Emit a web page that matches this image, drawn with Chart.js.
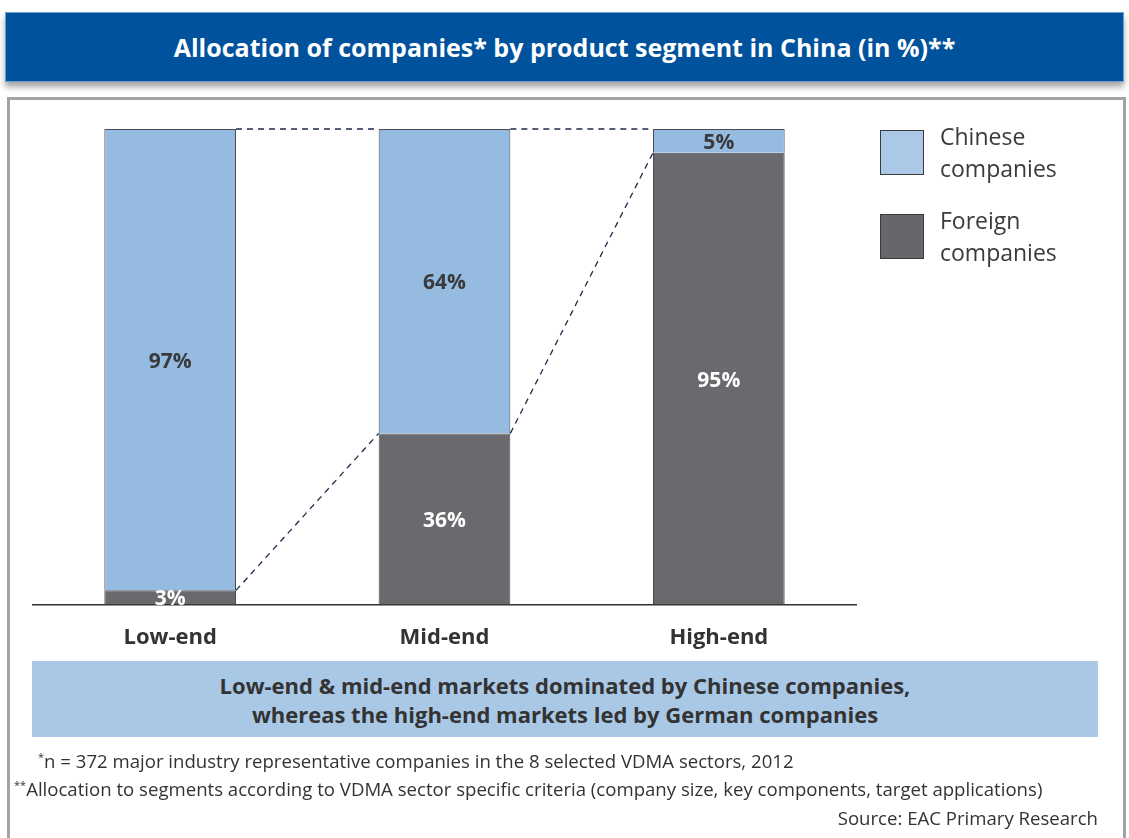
<!DOCTYPE html>
<html>
<head>
<meta charset="utf-8">
<script src="https://cdn.jsdelivr.net/npm/chart.js@4"></script>
<style>
  html, body { margin: 0; padding: 0; background: #fff; }
  body { width: 1129px; height: 838px; position: relative; overflow: hidden; font-family: "Open Sans", "Noto Sans", sans-serif; }
  #header {
    position: absolute; left: 5px; top: 12px; width: 1117px; height: 68px;
    background: #00529c; border: 1px solid #6f9fd0;
    box-shadow: 0 5px 6px rgba(0,0,0,0.35);
    color: #fff; font-weight: bold; font-size: 25px;
    display: flex; align-items: center; justify-content: center;
  }
  #panel {
    position: absolute; left: 7px; top: 97px; width: 1113px; height: 780px;
    border: 3px solid #a3a3a6;
  }
  #chartBox { position: absolute; left: 0; top: 0; width: 1129px; height: 838px; }
  #legend { position: absolute; left: 880px; top: 120px; font-size: 23px; color: #3a3a3c; line-height: 32px; }
  .item { position: relative; padding-left: 60px; height: 64px; margin-bottom: 20px; }
  .sw { position: absolute; left: 0; top: 10px; width: 44px; height: 45px; border: 1px solid #3a3a3c; box-sizing: border-box; }
  #summary {
    position: absolute; left: 32px; top: 661px; width: 1066px; height: 76px;
    background: #a9c8e6; color: #333; font-weight: bold; font-size: 22px;
    text-align: center; line-height: 29px; padding-top: 10px; box-sizing: border-box;
  }
  .note { position: absolute; font-size: 18.6px; color: #333; white-space: nowrap; }
  .note sup { font-size: 11px; }
</style>
</head>
<body>
<div id="header">Allocation of companies* by product segment in China (in %)**</div>
<div id="panel"></div>
<div id="chartBox"><canvas id="segChart" width="1129" height="838"></canvas></div>
<div id="legend">
  <div class="item"><span class="sw" style="background:#abc9e7"></span>Chinese<br>companies</div>
  <div class="item"><span class="sw" style="background:#67676b"></span>Foreign<br>companies</div>
</div>
<div id="summary">Low-end &amp; mid-end markets dominated by Chinese companies,<br>whereas the high-end markets led by German companies</div>
<div class="note" style="left:38px; top:748px;"><sup>*</sup>n = 372 major industry representative companies in the 8 selected VDMA sectors, 2012</div>
<div class="note" style="left:14px; top:776px;"><sup>**</sup>Allocation to segments according to VDMA sector specific criteria (company size, key components, target applications)</div>
<div class="note" style="right:31px; top:805px;">Source: EAC Primary Research</div>

<script>
"use strict";

// ---------------- DATA ----------------
const segments = ["Low-end", "Mid-end", "High-end"];
const foreignShare = [3, 36, 95];
const chineseShare = [97, 64, 5];

const BLUE = "#95bbe0";
const GRAY = "#6a696e";

// label colors per segment (dark text on light, white on dark)
const foreignLabelColor = ["#ffffff", "#ffffff", "#ffffff"];
const chineseLabelColor = ["#3a3a3c", "#3a3a3c", "#3a3a3c"];

// ---------------- PLUGINS ----------------
// dashed lines connecting the bars
const connectors = {
  id: "connectors",
  afterDatasetsDraw(chart) {
    const ctx = chart.ctx;
    const low = chart.getDatasetMeta(0).data;
    const top = chart.getDatasetMeta(1).data;
    ctx.save();
    ctx.strokeStyle = "#1e2a4a";
    ctx.lineWidth = 1.3;
    ctx.setLineDash([6, 5]);
    for (let i = 0; i < low.length - 1; i++) {
      const a = low[i], b = low[i + 1];
      const ta = top[i], tb = top[i + 1];
      // top edges
      ctx.beginPath();
      ctx.moveTo(ta.x + ta.width / 2, ta.y);
      ctx.lineTo(tb.x - tb.width / 2, tb.y);
      ctx.stroke();
      // foreign/chinese boundary
      ctx.beginPath();
      ctx.moveTo(a.x + a.width / 2, a.y);
      ctx.lineTo(b.x - b.width / 2, b.y);
      ctx.stroke();
    }
    ctx.restore();
  },
};

// percentage labels inside the segments
const valueLabels = {
  id: "valueLabels",
  afterDatasetsDraw(chart) {
    const ctx = chart.ctx;
    ctx.save();
    ctx.font = "bold 21px 'Open Sans', sans-serif";
    ctx.textAlign = "center";
    ctx.textBaseline = "middle";
    chart.data.datasets.forEach((ds, di) => {
      chart.getDatasetMeta(di).data.forEach((bar, i) => {
        const mid = (bar.y + bar.base) / 2;
        ctx.fillStyle = ds.labelColors[i];
        ctx.fillText(ds.data[i] + "%", bar.x, mid + 2);
      });
    });
    ctx.restore();
  },
};

// ---------------- CHART ----------------
new Chart(document.getElementById("segChart"), {
  type: "bar",
  data: {
    labels: segments,
    datasets: [
      {
        label: "Foreign companies",
        data: foreignShare,
        backgroundColor: GRAY,
        borderColor: "#4a4a50",
        borderWidth: 1,
        labelColors: foreignLabelColor,
      },
      {
        label: "Chinese companies",
        data: chineseShare,
        backgroundColor: BLUE,
        borderColor: "#4a4a50",
        borderWidth: 1,
        labelColors: chineseLabelColor,
      },
    ],
  },
  options: {
    responsive: false,
    animation: false,
    devicePixelRatio: 1,
    layout: { padding: { left: 33, right: 273, top: 129, bottom: 167 } },
    datasets: { bar: { categoryPercentage: 1, barPercentage: 0.48 } },
    plugins: { legend: { display: false }, tooltip: { enabled: false } },
    scales: {
      x: {
        stacked: true,
        grid: { display: false, drawTicks: false },
        border: { display: true, color: "#333", width: 1.5 },
        ticks: {
          padding: 20,
          color: "#333",
          font: { family: "'Open Sans', sans-serif", size: 22, weight: "bold" },
        },
      },
      y: {
        stacked: true,
        display: false,
        min: 0,
        max: 100,
      },
    },
  },
  plugins: [connectors, valueLabels],
});
</script>
</body>
</html>
